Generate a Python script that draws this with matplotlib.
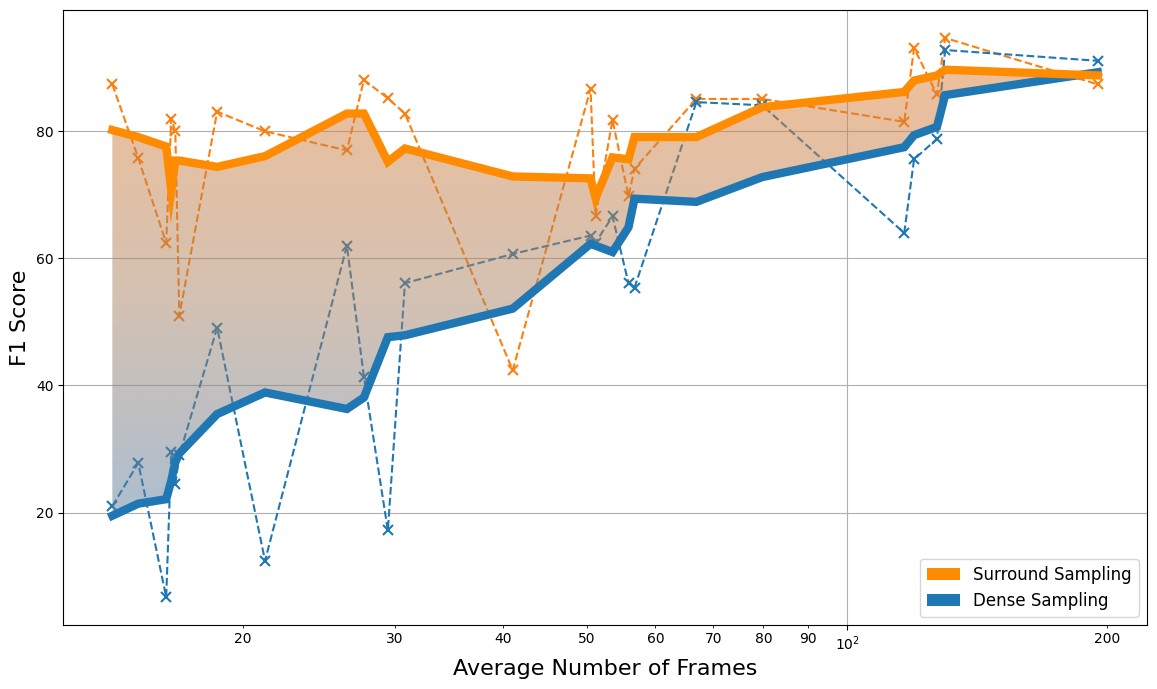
import numpy as np
import matplotlib
matplotlib.use('Agg')
import matplotlib.pyplot as plt
from matplotlib.ticker import FuncFormatter
from matplotlib.colors import LinearSegmentedColormap
from matplotlib.patches import Patch

# ---- data ----
frames = [14.13, 15.14, 16.31, 16.53, 16.71, 16.89, 18.68, 21.22, 26.39, 27.61,
          29.43, 30.80, 41.04, 50.49, 51.17, 53.53, 55.86, 56.76, 66.93, 79.76,
          116.4, 119.5, 127.0, 129.8, 194.9]

surround_raw = [87.4, 75.8, 62.4, 82.0, 80.0, 51.0, 83.1, 80.0, 77.0, 88.1,
                85.2, 82.8, 42.4, 86.7, 66.7, 81.8, 69.8, 74.1, 85.1, 85.1,
                81.5, 93.1, 85.8, 94.7, 87.4]

dense_raw = [21.0, 27.8, 6.7, 29.5, 24.5, 29.0, 49.1, 12.4, 62.0, 41.4,
             17.2, 56.1, 60.7, 63.6, 62.5, 66.6, 56.1, 55.4, 84.6, 84.1,
             64.0, 75.6, 78.8, 92.8, 91.1]

surround_trend = [80.2, 79.1, 77.6, 70.7, 75.4, 75.4, 74.4, 76.1, 82.8, 82.8,
                  75.2, 77.3, 72.9, 72.6, 69.5, 75.9, 75.6, 79.1, 79.1, 83.8,
                  86.2, 88.0, 88.8, 89.7, 88.8]

dense_trend = [19.5, 21.4, 22.1, 25.0, 27.9, 29.3, 35.5, 38.9, 36.3, 38.1,
               47.6, 47.9, 52.1, 62.3, 62.0, 61.0, 64.9, 69.4, 68.9, 72.8,
               77.5, 79.4, 80.7, 85.7, 89.3]

labels = ['Surround Sampling', 'Dense Sampling']

fig, ax = plt.subplots(figsize=(11.57, 6.89), dpi=100)
fig.subplots_adjust(left=0.0545, right=0.9914, top=0.9855, bottom=0.0929)

ax.set_xscale('log')

# raw dashed series
ax.plot(frames, surround_raw, linestyle='--', marker='x', color='#ff7f0e',
        lw=1.5, ms=7, mew=1.5, zorder=2)
ax.plot(frames, dense_raw, linestyle='--', marker='x', color='#1f77b4',
        lw=1.5, ms=7, mew=1.5, zorder=2)

# thick trend lines
ax.plot(frames, dense_trend, color='#1f77b4', lw=6, zorder=4,
        solid_joinstyle='miter')
ax.plot(frames, surround_trend, color='darkorange', lw=6, zorder=5,
        solid_joinstyle='miter')

xlim = ax.get_xlim()
ylim = ax.get_ylim()

# gradient fill between trend lines
poly = ax.fill_between(frames, dense_trend, surround_trend, facecolor='none',
                       edgecolor='none', lw=0)
cmap = LinearSegmentedColormap.from_list(
    'grad', [(89/255, 125/255, 160/255, 0.5),
             (170/255, 132/255, 100/255, 0.5),
             (220/255, 127/255, 52/255, 0.5)])
grad = np.linspace(0, 1, 256).reshape(-1, 1)
ymin = min(dense_trend)
ymax = max(surround_trend)
im = ax.imshow(grad, cmap=cmap, origin='lower', aspect='auto',
               extent=[frames[0], frames[-1], ymin, ymax],
               interpolation='bilinear', zorder=3)
im.set_clip_path(poly.get_paths()[0], transform=ax.transData)

ax.set_xlim(xlim)
ax.set_ylim(ylim)

ax.xaxis.set_minor_formatter(FuncFormatter(lambda v, p: f'{v:g}'))
ax.grid(True, which='major', color='#b0b0b0', lw=0.8)
ax.set_axisbelow(True)

ax.set_xlabel('Average Number of Frames', fontsize=16)
ax.set_ylabel('F1 Score', fontsize=16)

handles = [Patch(facecolor='darkorange', edgecolor='none'),
           Patch(facecolor='#1f77b4', edgecolor='none')]
ax.legend(handles, labels, loc='lower right', fontsize=12)

fig.savefig('out.png', dpi=100)
